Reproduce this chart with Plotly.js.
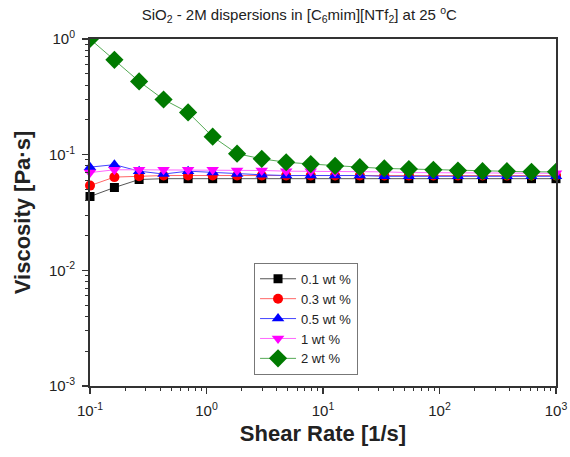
<!DOCTYPE html>
<html><head><meta charset="utf-8">
<script src="https://cdn.plot.ly/plotly-3.0.1.min.js"></script>
<style>html,body{margin:0;padding:0;background:#fff}#chart{width:570px;height:457px}</style>
</head><body><div id="chart"></div>
<script>
const shearRate = [0.1, 0.162, 0.264, 0.428, 0.695, 1.13, 1.83, 2.98, 4.83, 7.85, 12.7, 20.7, 33.6, 54.6, 88.6, 144, 234, 379, 616, 1000];
const visc01 = [0.0435, 0.052, 0.061, 0.062, 0.062, 0.062, 0.062, 0.062, 0.062, 0.062, 0.062, 0.062, 0.062, 0.062, 0.062, 0.062, 0.062, 0.062, 0.062, 0.062];
const visc03 = [0.054, 0.064, 0.065, 0.066, 0.066, 0.066, 0.066, 0.066, 0.066, 0.066, 0.066, 0.066, 0.066, 0.066, 0.066, 0.066, 0.066, 0.066, 0.066, 0.066];
const visc05 = [0.078, 0.082, 0.072, 0.068, 0.072, 0.070, 0.068, 0.067, 0.066, 0.066, 0.066, 0.066, 0.065, 0.065, 0.065, 0.065, 0.065, 0.065, 0.065, 0.065];
const visc1 = [0.070, 0.074, 0.074, 0.074, 0.074, 0.074, 0.073, 0.073, 0.072, 0.072, 0.071, 0.071, 0.071, 0.070, 0.070, 0.070, 0.070, 0.070, 0.069, 0.069];
const visc2 = [1.0, 0.66, 0.43, 0.30, 0.232, 0.143, 0.102, 0.092, 0.086, 0.083, 0.080, 0.078, 0.076, 0.075, 0.074, 0.073, 0.072, 0.072, 0.071, 0.071];
const seriesNames = ['0.1 wt %', '0.3 wt %', '0.5 wt %', '1 wt %', '2 wt %'];
const yTickVals = [0.001, 0.01, 0.1, 1];
const yTickText = ['10<sup>-3</sup>', '10<sup>-2</sup>', '10<sup>-1</sup>', '10<sup>0</sup>'];
const xTickVals = [0.1, 1, 10, 100, 1000];
const xTickText = ['10<sup>-1</sup>', '10<sup>0</sup>', '10<sup>1</sup>', '10<sup>2</sup>', '10<sup>3</sup>'];

const FONT = 'Arial, Liberation Sans, sans-serif';
const styles = [
  {line:'#555555', marker:'#000000', symbol:'square', size:9, clip:false},
  {line:'#ff6666', marker:'#ff0000', symbol:'circle', size:10, clip:false},
  {line:'#4444ff', marker:'#0000ff', symbol:'triangle-up', size:11, clip:false},
  {line:'#ff66ff', marker:'#ff00ff', symbol:'triangle-down', size:11, clip:false},
  {line:'#55aa55', marker:'#007a00', symbol:'diamond', size:14, clip:true}
];
const ys = [visc01, visc03, visc05, visc1, visc2];
const traces = ys.map((y, i) => ({
  x: shearRate, y: y, name: seriesNames[i], type: 'scatter', mode: 'lines+markers',
  cliponaxis: styles[i].clip,
  line: {color: styles[i].line, width: 1},
  marker: {color: styles[i].marker, symbol: styles[i].symbol, size: styles[i].size, line: {width: 0}}
}));

const axisCommon = {
  type: 'log', showgrid: false, zeroline: false, showline: true, linecolor: '#333', linewidth: 2,
  mirror: true, ticks: 'outside', ticklen: 6, tickwidth: 1.5, tickcolor: '#333', ticklabelstandoff: 4,
  tickfont: {family: FONT, size: 15, color: '#222'},
  minor: {ticks: 'outside', ticklen: 3, tickwidth: 1, tickcolor: '#333', showgrid: false, tickmode: 'linear', dtick: 'D1'}
};

const layout = {
  width: 570, height: 457, paper_bgcolor: '#fff', plot_bgcolor: '#fff',
  margin: {l: 90, r: 14, t: 39, b: 71},
  title: {text: 'SiO<sub>2</sub> - 2M dispersions in [C<sub>6</sub>mim][NTf<sub>2</sub>] at 25 <sup>o</sup>C',
    font: {family: FONT, size: 15, color: '#222'},
    x: 0.525, xanchor: 'center', y: 0.968, yanchor: 'middle'},
  xaxis: Object.assign({}, axisCommon, {
    range: [-1, 3], tickvals: xTickVals, ticktext: xTickText,
    title: {text: '<b>Shear Rate [1/s]</b>', font: {family: FONT, size: 22, color: '#222'}, standoff: 8}
  }),
  yaxis: Object.assign({}, axisCommon, {
    range: [-3, 0], tickvals: yTickVals, ticktext: yTickText,
    title: {text: '<b>Viscosity [Pa·s]</b>', font: {family: FONT, size: 22, color: '#222'}, standoff: 12}
  }),
  showlegend: true,
  legend: {x: 0.352, y: 0.355, xanchor: 'left', yanchor: 'top', bgcolor: '#fff', bordercolor: '#777', borderwidth: 1,
    font: {family: FONT, size: 13, color: '#222'}, tracegroupgap: 0, itemwidth: 36}
};

Plotly.newPlot('chart', traces, layout, {displayModeBar: false, staticPlot: true});
</script>
</body></html>
